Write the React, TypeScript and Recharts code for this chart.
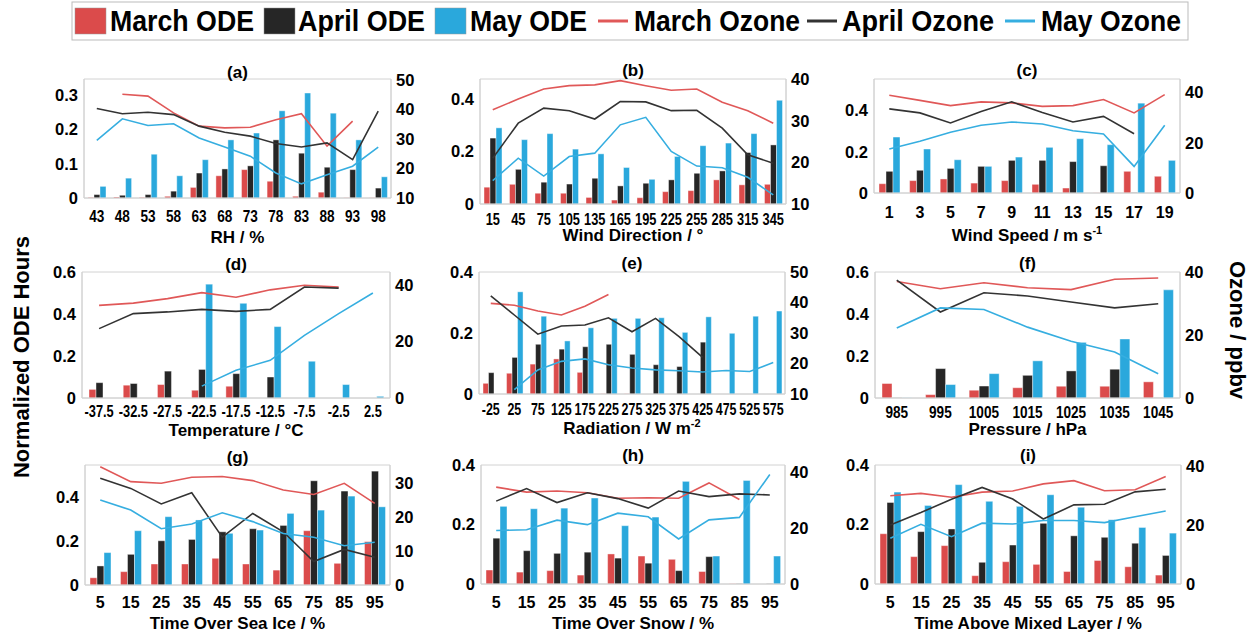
import React from 'react';
import { ComposedChart, Bar, Line, XAxis, YAxis, ReferenceArea } from 'recharts';

const FONT = "'Liberation Sans', Arial, sans-serif";
const RED = '#DB4B4B';
const BLACK = '#262626';
const BLUE = '#2AA8DC';
const RED_LINE = '#E05858';
const BLACK_LINE = '#333333';
const BLUE_LINE = '#36AEE0';
const FRAME = '#d2d2d2';

// (a) relative humidity
const rhLabels = ['43', '48', '53', '58', '63', '68', '73', '78', '83', '88', '93', '98'];
const rhMarOde = [0.002, 0.003, 0.002, 0.005, 0.031, 0.065, 0.083, 0.049, 0.005, 0.017, 0.001, 0.001];
const rhAprOde = [0.01, 0.008, 0.01, 0.02, 0.073, 0.085, 0.094, 0.17, 0.131, 0.09, 0.083, 0.029];
const rhMayOde = [0.034, 0.058, 0.128, 0.065, 0.112, 0.17, 0.19, 0.255, 0.307, 0.248, 0.17, 0.062];
const rhMarO3 = [null, 45.2, 44.6, 38.9, 34.4, 33.8, 34.0, 36.6, 38.6, 27.6, 36.1, null];
const rhAprO3 = [40.4, 38.6, 39.1, 38.3, 34.4, 32.3, 31.0, 28.5, 27.3, 28.7, 23.0, 39.5];
const rhMayO3 = [29.6, 36.9, 34.6, 35.2, 30.4, 27.3, 24.2, 18.5, 14.8, 17.9, 20.8, 27.3];

// (b) wind direction
const wdLabels = ['15', '45', '75', '105', '135', '165', '195', '225', '255', '285', '315', '345'];
const wdMarOde = [0.064, 0.075, 0.041, 0.041, 0.025, 0.015, 0.024, 0.047, 0.051, 0.092, 0.073, 0.075];
const wdAprOde = [0.251, 0.132, 0.083, 0.076, 0.098, 0.069, 0.079, 0.092, 0.117, 0.126, 0.196, 0.225];
const wdMayOde = [0.29, 0.245, 0.268, 0.209, 0.191, 0.139, 0.094, 0.181, 0.222, 0.232, 0.268, 0.395];
const wdMarO3 = [32.6, 35.2, 37.6, 38.4, 38.6, 39.6, 38.4, 37.3, 37.6, 34.4, 32.4, 29.4];
const wdAprO3 = [21.0, 29.4, 33.0, 32.4, 30.4, 34.6, 34.5, 32.4, 32.5, 28.2, 21.8, 19.8];
const wdMayO3 = [15.6, 21.0, 16.7, 21.4, 22.2, 29.0, 30.8, 22.6, 19.1, 18.7, 16.4, 12.2];

// (c) wind speed
const wsLabels = ['1', '3', '5', '7', '9', '11', '13', '15', '17', '19'];
const wsMarOde = [0.045, 0.06, 0.068, 0.048, 0.06, 0.042, 0.024, 0.001, 0.105, 0.081];
const wsAprOde = [0.105, 0.11, 0.119, 0.129, 0.158, 0.158, 0.152, 0.132, 0.002, 0.001];
const wsMayOde = [0.271, 0.213, 0.161, 0.129, 0.174, 0.221, 0.263, 0.234, 0.435, 0.158];
const wsMarO3 = [38.9, 36.9, 34.8, 36.3, 35.9, 34.5, 34.8, 37.2, 31.9, 39.2];
const wsAprO3 = [33.5, 31.9, 27.9, 32.5, 36.3, 32.1, 28.3, 30.5, 23.6, null];
const wsMayO3 = [17.5, 20.6, 24.2, 27.0, 28.3, 27.5, 24.8, 23.5, 10.6, 27.0];

// (d) temperature
const tLabels = ['-37.5', '-32.5', '-27.5', '-22.5', '-17.5', '-12.5', '-7.5', '-2.5', '2.5'];
const tMarOde = [0.041, 0.061, 0.064, 0.037, 0.056, 0, 0, 0, 0];
const tAprOde = [0.073, 0.069, 0.128, 0.136, 0.116, 0.1, 0, 0, 0];
const tMayOde = [0, 0, 0, 0.542, 0.451, 0.34, 0.175, 0.064, 0.008];
const tMarO3 = [32.7, 33.5, 35.1, 37.2, 35.6, 38.2, 39.8, 39.2, null];
const tAprO3 = [24.5, 29.8, 30.4, 31.3, 30.6, 31.3, 39.2, 38.8, null];
const tMayO3 = [null, null, null, 4.2, 9.8, 13.3, 22.1, 29.8, 37.1];

// (e) radiation
const radLabels = ['-25', '25', '75', '125', '175', '225', '275', '325', '375', '425', '475', '525', '575'];
const radMarOde = [0.035, 0.068, 0.098, 0.115, 0.071, 0.001, 0.001, 0, 0, 0, 0, 0, 0];
const radAprOde = [0.07, 0.12, 0.163, 0.147, 0.155, 0.163, 0.13, 0.096, 0.09, 0.17, 0, 0, 0];
const radMayOde = [0, 0.335, 0.255, 0.174, 0.217, 0.248, 0.248, 0.25, 0.202, 0.253, 0.199, 0.255, 0.272];
const radMarO3 = [39.7, 39.1, 37.2, 35.9, 38.8, 42.6, null, null, null, null, null, null, null];
const radAprO3 = [42.2, 35.9, 29.6, 32.3, 32.6, 35.0, 30.4, 34.8, 28.8, 22.0, null, null, null];
const radMayO3 = [null, 11.4, 17.9, 20.7, 21.5, 19.6, 18.5, 17.9, 17.6, 17.2, 17.7, 17.4, 20.3];

// (f) pressure
const pLabels = ['985', '995', '1005', '1015', '1025', '1035', '1045'];
const pMarOde = [0.069, 0.016, 0.037, 0.049, 0.056, 0.056, 0.077];
const pAprOde = [0.001, 0.14, 0.057, 0.108, 0.129, 0.137, 0.001];
const pMayOde = [0.001, 0.064, 0.116, 0.177, 0.265, 0.281, 0.515];
const pMarO3 = [37.0, 34.7, 36.6, 35.0, 34.4, 37.7, 38.1];
const pAprO3 = [37.4, 27.3, 33.4, 32.4, 30.5, 28.6, 29.9];
const pMayO3 = [22.2, 28.6, 28.1, 22.5, 18.0, 14.6, 7.7];

// (g) time over sea ice
const pctLabels = ['5', '15', '25', '35', '45', '55', '65', '75', '85', '95'];
const iceMarOde = [0.033, 0.061, 0.096, 0.096, 0.122, 0.096, 0.068, 0.248, 0.099, 0.198];
const iceAprOde = [0.087, 0.14, 0.202, 0.208, 0.243, 0.257, 0.272, 0.476, 0.429, 0.52];
const iceMayOde = [0.148, 0.248, 0.312, 0.297, 0.236, 0.251, 0.327, 0.342, 0.406, 0.357];
const iceMarO3 = [34.9, 30.5, 30.0, 31.8, 32.0, 30.8, 28.0, 26.7, 30.0, 24.1];
const iceAprO3 = [31.5, 28.5, 23.9, 27.2, 14.1, 21.1, 15.7, 6.9, 10.5, 8.2];
const iceMayO3 = [25.1, 22.1, 16.6, 18.0, 21.3, 18.7, 15.2, 14.1, 11.6, 12.6];

// (h) time over snow
const snowMarOde = [0.047, 0.04, 0.045, 0.03, 0.101, 0.094, 0.083, 0.042, 0.001, 0];
const snowAprOde = [0.154, 0.112, 0.103, 0.107, 0.087, 0.07, 0.045, 0.092, 0.001, 0.001];
const snowMayOde = [0.261, 0.253, 0.255, 0.289, 0.196, 0.225, 0.345, 0.094, 0.348, 0.094];
const snowMarO3 = [34.6, 32.8, 33.2, 32.6, 30.6, 30.8, 30.6, 36.1, 30.2, null];
const snowAprO3 = [29.6, 34.1, 29.1, 32.6, 30.5, 27.1, 33.2, 31.2, 32.2, 31.8];
const snowMayO3 = [19.1, 19.4, 22.8, 21.2, 25.3, 24.0, 16.1, 22.9, 23.8, 39.1];

// (i) time above mixed layer
const mlMarOde = [0.169, 0.092, 0.129, 0.028, 0.075, 0.066, 0.042, 0.079, 0.058, 0.03];
const mlAprOde = [0.274, 0.176, 0.185, 0.073, 0.131, 0.204, 0.162, 0.157, 0.137, 0.096];
const mlMayOde = [0.309, 0.264, 0.334, 0.278, 0.261, 0.3, 0.258, 0.216, 0.19, 0.171];
const mlMarO3 = [29.9, 30.7, 29.4, 31.1, 31.5, 33.9, 35.0, 31.6, 31.9, 36.4];
const mlAprO3 = [20.0, 24.2, 28.7, 32.7, 28.8, 22.0, 26.8, 27.0, 31.2, 32.1];
const mlMayO3 = [15.5, 20.2, 16.0, 20.6, 20.3, 21.5, 21.5, 20.8, 22.8, 24.7];

const panels = [
  { tag: '(a)', title: 'RH / %', labels: rhLabels, ode: [rhMarOde, rhAprOde, rhMayOde], o3: [rhMarO3, rhAprO3, rhMayO3],
    x1: 84, x2: 391, y1: 79, y2: 198, lMax: 0.348, lTicks: [0, 0.1, 0.2, 0.3], rDom: [10, 50.4], rTicks: [10, 20, 30, 40, 50],
    tagY: 72, titleY: 237, tickY: 216, sx: 0.85, bar: 6 },
  { tag: '(b)', title: 'Wind Direction / °', labels: wdLabels, ode: [wdMarOde, wdAprOde, wdMayOde], o3: [wdMarO3, wdAprO3, wdMayO3],
    x1: 480, x2: 786, y1: 79, y2: 204, lMax: 0.476, lTicks: [0, 0.2, 0.4], rDom: [10, 40], rTicks: [10, 20, 30, 40],
    tagY: 70, titleY: 235, tickY: 219, sx: 0.8, bar: 6 },
  { tag: '(c)', title: 'Wind Speed / m s', sup: '-1', labels: wsLabels, ode: [wsMarOde, wsAprOde, wsMayOde], o3: [wsMarO3, wsAprO3, wsMayO3],
    x1: 874, x2: 1180, y1: 79, y2: 193, lMax: 0.552, lTicks: [0, 0.2, 0.4], rDom: [0, 45.4], rTicks: [0, 20, 40],
    tagY: 70, titleY: 235, tickY: 212, sx: 1.0, bar: 7 },
  { tag: '(d)', title: 'Temperature / °C', labels: tLabels, ode: [tMarOde, tAprOde, tMayOde], o3: [tMarO3, tAprO3, tMayO3],
    x1: 82, x2: 390, y1: 272, y2: 398, lMax: 0.6, lTicks: [0, 0.2, 0.4, 0.6], rDom: [0, 44.5], rTicks: [0, 20, 40],
    tagY: 264, titleY: 430, tickY: 411, sx: 0.8, bar: 7 },
  { tag: '(e)', title: 'Radiation / W m', sup: '-2', labels: radLabels, ode: [radMarOde, radAprOde, radMayOde], o3: [radMarO3, radAprO3, radMayO3],
    x1: 479, x2: 785, y1: 272, y2: 394, lMax: 0.4, lTicks: [0, 0.2, 0.4], rDom: [10, 50], rTicks: [10, 20, 30, 40, 50],
    tagY: 263, titleY: 428, tickY: 409, sx: 0.78, bar: 5.5 },
  { tag: '(f)', title: 'Pressure / hPa', labels: pLabels, ode: [pMarOde, pAprOde, pMayOde], o3: [pMarO3, pAprO3, pMayO3],
    x1: 875, x2: 1180, y1: 272, y2: 398, lMax: 0.6, lTicks: [0, 0.2, 0.4, 0.6], rDom: [0, 40], rTicks: [0, 20, 40],
    tagY: 263, titleY: 429, tickY: 412, sx: 0.85, bar: 10 },
  { tag: '(g)', title: 'Time Over Sea Ice / %', labels: pctLabels, ode: [iceMarOde, iceAprOde, iceMayOde], o3: [iceMarO3, iceAprO3, iceMayO3],
    x1: 85, x2: 390, y1: 465, y2: 585, lMax: 0.548, lTicks: [0, 0.2, 0.4], rDom: [0, 35.4], rTicks: [0, 10, 20, 30],
    tagY: 457, titleY: 623, tickY: 602, sx: 1.0, bar: 7 },
  { tag: '(h)', title: 'Time Over Snow / %', labels: pctLabels, ode: [snowMarOde, snowAprOde, snowMayOde], o3: [snowMarO3, snowAprO3, snowMayO3],
    x1: 481, x2: 785, y1: 465, y2: 584, lMax: 0.4, lTicks: [0, 0.2, 0.4], rDom: [0, 42.5], rTicks: [0, 20, 40],
    tagY: 455, titleY: 623, tickY: 602, sx: 1.0, bar: 7 },
  { tag: '(i)', title: 'Time Above Mixed Layer / %', labels: pctLabels, ode: [mlMarOde, mlAprOde, mlMayOde], o3: [mlMarO3, mlAprO3, mlMayO3],
    x1: 875, x2: 1181, y1: 465, y2: 584, lMax: 0.4, lTicks: [0, 0.2, 0.4], rDom: [0, 40.3], rTicks: [0, 20, 40],
    tagY: 455, titleY: 623, tickY: 602, sx: 1.0, bar: 7 },
];

const legendItems = [
  { name: 'March ODE', kind: 'bar', color: RED, mx: 75, tx: 110, tw: 144 },
  { name: 'April ODE', kind: 'bar', color: BLACK, mx: 264, tx: 298, tw: 127 },
  { name: 'May ODE', kind: 'bar', color: BLUE, mx: 435, tx: 470, tw: 117 },
  { name: 'March Ozone', kind: 'line', color: RED_LINE, mx: 598, tx: 634, tw: 166 },
  { name: 'April Ozone', kind: 'line', color: BLACK_LINE, mx: 807, tx: 842, tw: 152 },
  { name: 'May Ozone', kind: 'line', color: BLUE_LINE, mx: 1005, tx: 1041, tw: 140 },
];

const LW = 45;
const RW = 45;
const MT = 12;
const XH = 30;
const TICK_FS = 16;

const XTick = (props) => {
  const { x, y, payload, labels, sx } = props;
  return (
    <text
      x={0}
      y={0}
      dy="0.71em"
      transform={`translate(${x},${y}) scale(${sx},1)`}
      textAnchor="middle"
      fontFamily={FONT}
      fontWeight="bold"
      fontSize={TICK_FS}
      fill="#000"
    >
      {labels[payload.value]}
    </text>
  );
};

const Panel = ({ p }) => {
  const n = p.labels.length;
  const data = p.labels.map((l, i) => ({
    i,
    mar: p.ode[0][i],
    apr: p.ode[1][i],
    may: p.ode[2][i],
    o3mar: p.o3[0][i],
    o3apr: p.o3[1][i],
    o3may: p.o3[2][i],
  }));
  const w = p.x2 - p.x1 + LW + RW;
  const h = p.y2 - p.y1 + MT + XH;
  const tickStyle = { fontFamily: FONT, fontWeight: 'bold', fontSize: 16.5, fill: '#000' };
  const xTickMargin = p.tickY - p.y2 - TICK_FS * 0.36;
  const barEdge = { stroke: '#ffffff', strokeWidth: 0.6, strokeOpacity: 0.7 };
  return (
    <div style={{ position: 'absolute', left: p.x1 - LW, top: p.y1 - MT }}>
      <ComposedChart width={w} height={h} data={data} margin={{ top: MT, right: 0, bottom: 0, left: 0 }} barGap={0}>
        <XAxis
          dataKey="i"
          type="number"
          domain={[-0.5, n - 0.5]}
          ticks={p.labels.map((_, i) => i)}
          interval={0}
          height={XH}
          tickSize={0}
          tickMargin={xTickMargin}
          tickLine={false}
          axisLine={{ stroke: FRAME }}
          tick={(tp) => <XTick {...tp} labels={p.labels} sx={p.sx} />}
          allowDataOverflow
        />
        <YAxis
          yAxisId="l"
          domain={[0, p.lMax]}
          ticks={p.lTicks}
          width={LW}
          tickSize={0}
          tickMargin={6}
          tickLine={false}
          axisLine={{ stroke: FRAME }}
          tick={tickStyle}
          tickFormatter={(v) => (v === 0 ? '0' : String(v))}
          allowDataOverflow
        />
        <YAxis
          yAxisId="r"
          orientation="right"
          domain={p.rDom}
          ticks={p.rTicks}
          width={RW}
          tickSize={0}
          tickMargin={5}
          tickLine={false}
          axisLine={{ stroke: FRAME }}
          tick={tickStyle}
          allowDataOverflow
        />
        <ReferenceArea yAxisId="l" x1={-0.5} x2={n - 0.5} y1={0} y2={p.lMax} fill="none" stroke={FRAME} ifOverflow="visible" />
        <Bar yAxisId="l" dataKey="mar" fill={RED} {...barEdge} barSize={p.bar} isAnimationActive={false} />
        <Bar yAxisId="l" dataKey="apr" fill={BLACK} {...barEdge} barSize={p.bar} isAnimationActive={false} />
        <Bar yAxisId="l" dataKey="may" fill={BLUE} {...barEdge} barSize={p.bar} isAnimationActive={false} />
        <Line yAxisId="r" dataKey="o3mar" stroke={RED_LINE} strokeWidth={1.6} dot={false} isAnimationActive={false} />
        <Line yAxisId="r" dataKey="o3apr" stroke={BLACK_LINE} strokeWidth={1.6} dot={false} isAnimationActive={false} />
        <Line yAxisId="r" dataKey="o3may" stroke={BLUE_LINE} strokeWidth={1.6} dot={false} isAnimationActive={false} />
      </ComposedChart>
    </div>
  );
};

const textBase: React.CSSProperties = {
  position: 'absolute',
  fontFamily: FONT,
  fontWeight: 'bold',
  color: '#000',
  whiteSpace: 'nowrap',
  transform: 'translate(-50%, -50%)',
  lineHeight: 1,
};

export default function App() {
  return (
    <div style={{ position: 'absolute', left: 0, top: 0, width: 1258, height: 637, background: '#fff', overflow: 'hidden' }}>
      <svg width={1258} height={44} style={{ position: 'absolute', left: 0, top: 0 }}>
        <rect x={72} y={2} width={1116} height={38} fill="#fff" stroke="#bbb" strokeWidth={1} />
        {legendItems.map((it) => (
          <g key={it.name}>
            {it.kind === 'bar' ? (
              <rect x={it.mx} y={8} width={31} height={26} fill={it.color} stroke="#999" strokeWidth={0.5} />
            ) : (
              <line x1={it.mx} x2={it.mx + 30} y1={21} y2={21} stroke={it.color} strokeWidth={3} />
            )}
            <text
              x={it.tx}
              y={31}
              fontFamily={FONT}
              fontWeight="bold"
              fontSize={29}
              fill="#000"
              textLength={it.tw}
              lengthAdjust="spacingAndGlyphs"
            >
              {it.name}
            </text>
          </g>
        ))}
      </svg>
      {panels.map((p) => (
        <React.Fragment key={p.tag}>
          <Panel p={p} />
          <div style={{ ...textBase, left: (p.x1 + p.x2) / 2, top: p.tagY, fontSize: 17 }}>{p.tag}</div>
          <div style={{ ...textBase, left: (p.x1 + p.x2) / 2, top: p.titleY, fontSize: 17 }}>
            {p.title}
            {p.sup ? <sup style={{ fontSize: 11, verticalAlign: 'super', lineHeight: 0 }}>{p.sup}</sup> : null}
          </div>
        </React.Fragment>
      ))}
      <div style={{ ...textBase, left: 22, top: 357, fontSize: 22, transform: 'translate(-50%, -50%) rotate(-90deg)' }}>
        Normalized ODE Hours
      </div>
      <div style={{ ...textBase, left: 1237, top: 330, fontSize: 22, transform: 'translate(-50%, -50%) rotate(90deg)' }}>
        Ozone / ppbv
      </div>
    </div>
  );
}
